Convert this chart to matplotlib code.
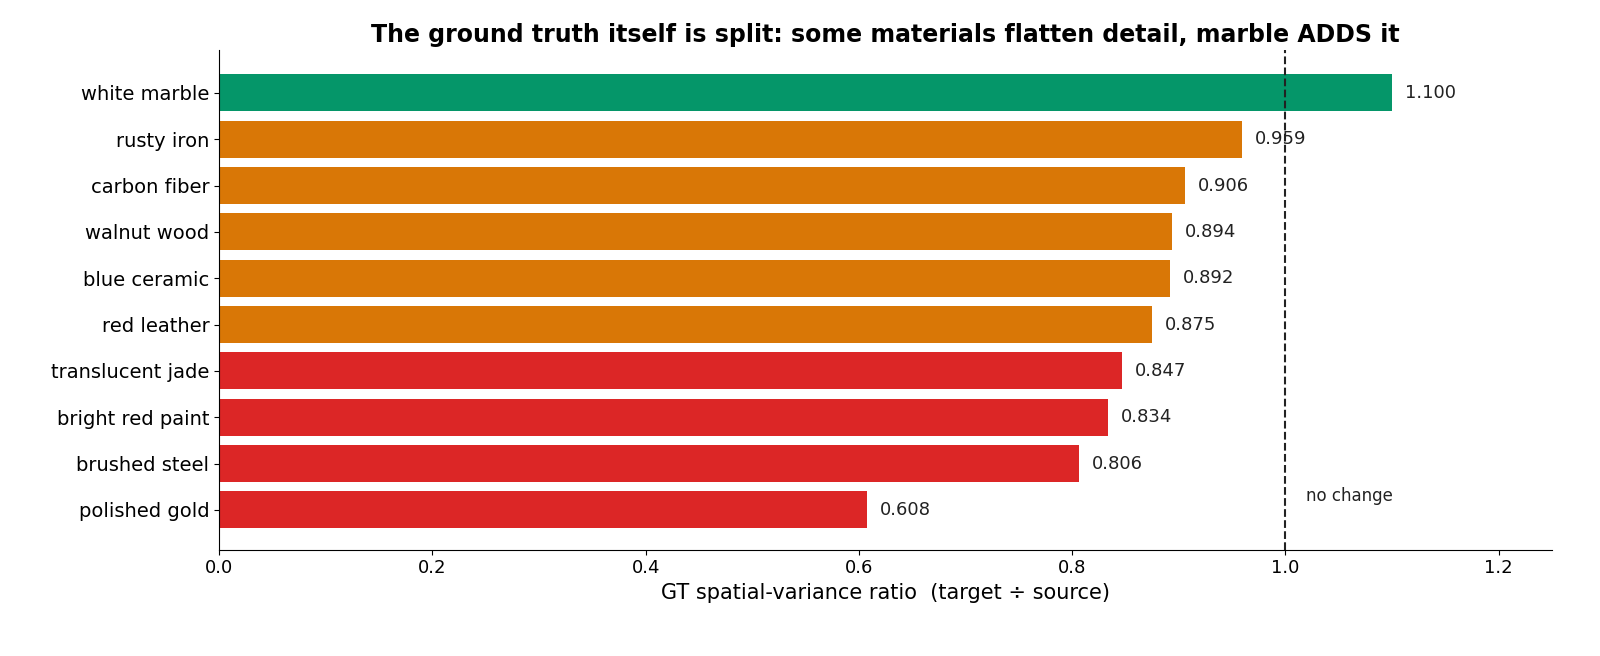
import matplotlib
matplotlib.use("Agg")
import matplotlib.pyplot as plt

materials = ["white marble", "rusty iron", "carbon fiber", "walnut wood", "blue ceramic",
             "red leather", "translucent jade", "bright red paint", "brushed steel", "polished gold"]
ratios = [1.100, 0.959, 0.906, 0.894, 0.892, 0.875, 0.847, 0.834, 0.806, 0.608]
groups = ["up", "mid", "mid", "mid", "mid", "mid", "low", "low", "low", "low"]

colors = {"up": "#059669", "mid": "#D97706", "low": "#DC2626"}

fig, ax = plt.subplots(figsize=(16, 6.56), dpi=100)
fig.subplots_adjust(left=0.137, right=0.97, top=0.924, bottom=0.162)

y = list(range(len(materials)))[::-1]
ax.barh(y, ratios, color=[colors[g] for g in groups], height=0.8)
for yi, v in zip(y, ratios):
    ax.text(v + 0.012, yi, f"{v:.3f}", va="center", ha="left", fontsize=13, color="#222222")

ax.axvline(1.0, color="#222222", linestyle="--", linewidth=1.5)
ax.text(1.019, 0.3, "no change", fontsize=12, color="#222222", va="center")

ax.set_yticks(y)
ax.set_yticklabels(materials, fontsize=14)
ax.set_xlim(0, 1.25)
ax.set_ylim(-0.86, 9.93)
ax.tick_params(axis="x", labelsize=13)
ax.set_xlabel("GT spatial-variance ratio  (target \u00f7 source)", fontsize=15)
ax.set_title("The ground truth itself is split: some materials flatten detail, marble ADDS it",
             fontsize=17, fontweight="bold")
ax.spines["top"].set_visible(False)
ax.spines["right"].set_visible(False)

plt.savefig("out.png", dpi=100)
